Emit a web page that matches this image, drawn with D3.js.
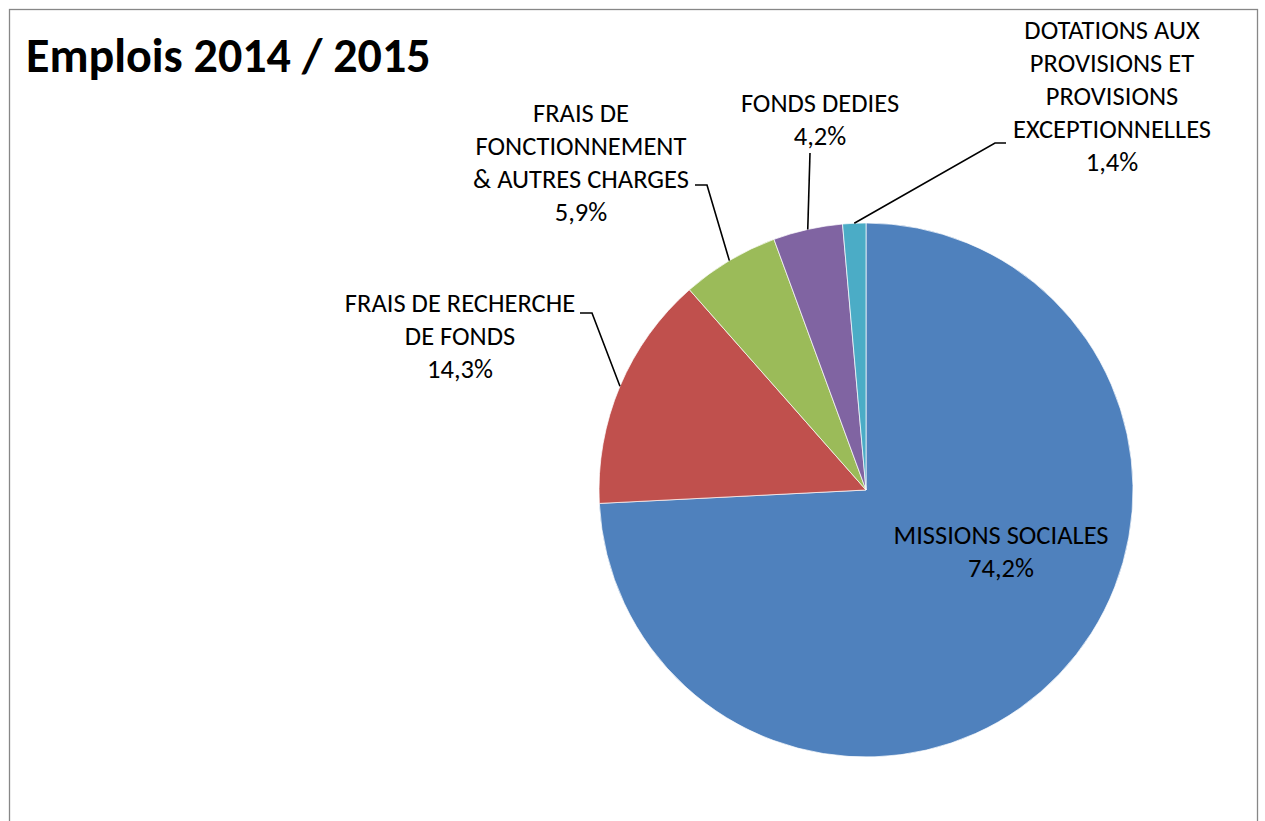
<!DOCTYPE html>
<meta charset="utf-8">
<style>
body { margin: 0; background: #fff; }
.frame { fill: #fff; stroke: #878787; stroke-width: 1.3px; }
.title { font-family: Carlito, "Open Sans", sans-serif; font-weight: 700; font-size: 48px; fill: #000; }
.lbl { font-family: Carlito, "Open Sans", sans-serif; font-size: 26.5px; fill: #000; }
.leader { fill: none; stroke: #000; stroke-width: 1.6px; }
.slice { stroke: #fff; stroke-width: 0.7px; }
</style>
<body>
<svg width="1265" height="821"></svg>
<script src="https://d3js.org/d3.v7.min.js"></script>
<script>

// the data, in the order Excel draws it (clockwise from 12 o'clock)
var categories = [
  ["MISSIONS SOCIALES"],
  ["FRAIS DE RECHERCHE", "DE FONDS"],
  ["FRAIS DE", "FONCTIONNEMENT", "& AUTRES CHARGES"],
  ["FONDS DEDIES"],
  ["DOTATIONS AUX", "PROVISIONS ET", "PROVISIONS", "EXCEPTIONNELLES"]
];
var values = [74.2, 14.3, 5.9, 4.2, 1.4];
var colors = ["#4F81BD", "#C0504D", "#9BBB59", "#8064A2", "#4BACC6"];

// where each label block sits (centre x, y of first line), and its leader elbow
var labelPos = [
  {x: 1001, y: 535, elbow: null},
  {x: 460,  y: 303, elbow: [592, 313], end: 580},
  {x: 581,  y: 113, elbow: [707, 185], end: 695},
  {x: 820,  y: 103, elbow: [810, 153], end: 810},
  {x: 1112, y: 30,  elbow: [995, 143], end: 1006}
];
var lineH = 33;

var svg = d3.select("svg");

// chart frame
svg.append("rect")
    .attr("class", "frame")
    .attr("x", 9.5).attr("y", 9.5)
    .attr("width", 1248).attr("height", 830);

svg.append("text")
    .attr("class", "title")
    .attr("x", 26).attr("y", 72)
    .text("Emplois 2014 / 2015");

var cx = 866, cy = 490, radius = 267;

var pie = d3.pie().sort(null).value(function(d) { return d; });
var arcs = pie(values);

var arc = d3.arc().innerRadius(0).outerRadius(radius);
var rim = d3.arc().innerRadius(radius).outerRadius(radius);

var g = svg.append("g")
    .attr("transform", "translate(" + cx + "," + cy + ")");

g.selectAll("path.slice")
    .data(arcs)
  .enter().append("path")
    .attr("class", "slice")
    .attr("fill", function(d, i) { return colors[i]; })
    .attr("d", arc);

var fmt = function(v) { return d3.format(".1f")(v).replace(".", ",") + "%"; };

// leader lines from the rim (mid angle) to the label elbow
arcs.forEach(function(d, i) {
  var p = labelPos[i];
  if (!p.elbow) return;
  var c = rim.centroid(d);
  var pts = [[c[0] + cx, c[1] + cy], p.elbow, [p.end, p.elbow[1]]];
  svg.append("path")
      .attr("class", "leader")
      .attr("d", d3.line()(pts));
});

// labels
arcs.forEach(function(d, i) {
  var p = labelPos[i];
  var lines = categories[i].concat([fmt(values[i])]);
  var t = svg.append("text")
      .attr("class", "lbl")
      .attr("text-anchor", "middle");
  t.selectAll("tspan")
      .data(lines)
    .enter().append("tspan")
      .attr("x", p.x)
      .attr("y", function(s, j) { return p.y + j * lineH; })
      .attr("dy", "0.35em")
      .text(function(s) { return s; });
});

</script>
</body>
